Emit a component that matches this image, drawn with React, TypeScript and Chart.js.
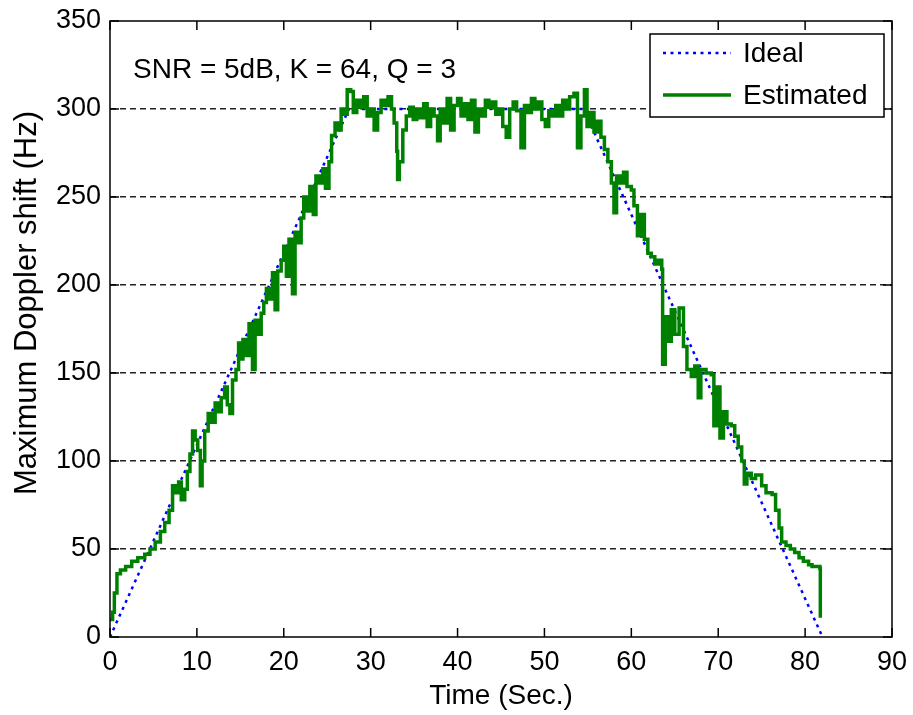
import React, { useEffect, useRef } from "react";
import { Chart, registerables } from "chart.js";

Chart.register(...registerables);

const FONT = "'Liberation Sans', Arial, Helvetica, sans-serif";

const xTickValues = [0, 10, 20, 30, 40, 50, 60, 70, 80, 90];
const yTickValues = [0, 50, 100, 150, 200, 250, 300, 350];

const annotationText = "SNR = 5dB, K = 64, Q = 3";
const xTitle = "Time (Sec.)";
const yTitle = "Maximum Doppler shift (Hz)";
const seriesNames = ["Ideal", "Estimated"];

// Ideal (trapezoidal) Doppler profile
const idealTimes = [0, 27.5, 54.5, 82];
const idealValues = [0, 300, 300, 0];

// Estimated Doppler shift
const estTimes = [
  0, 0.3, 0.5, 0.8, 1.2, 1.8, 2.5, 3.2, 4.0, 4.6,
  5.2, 5.8, 6.3, 6.8, 7.2, 7.5, 7.9, 8.2, 8.6, 8.9,
  9.2, 9.5, 9.8, 10.1, 10.4, 10.6, 10.9, 11.3, 11.7, 12.1,
  12.5, 12.8, 13.2, 13.5, 13.8, 14.1, 14.5, 14.8, 15.1, 15.3,
  15.7, 16.0, 16.4, 16.7, 17.0, 17.4, 17.7, 18.0, 18.4, 18.7,
  19.0, 19.3, 19.7, 20.0, 20.3, 20.6, 21.0, 21.3, 21.7, 22.0,
  22.3, 22.6, 23.0, 23.4, 23.7, 24.1, 24.5, 24.8, 25.2, 25.5,
  25.9, 26.3, 26.6, 27.0, 27.3, 27.7, 28.0, 28.4, 28.8, 29.2,
  29.6, 30.0, 30.4, 30.8, 31.2, 31.6, 32.0, 32.4, 32.7, 33.0,
  33.1, 33.3, 33.7, 34.1, 34.5, 34.9, 35.3, 35.7, 36.1, 36.5,
  36.9, 37.3, 37.7, 38.0, 38.4, 38.8, 39.2, 39.6, 40.0, 40.4,
  40.8, 41.2, 41.6, 42.0, 42.4, 42.8, 43.2, 43.6, 44.0, 44.4,
  44.8, 45.2, 45.6, 46.0, 46.4, 46.8, 47.3, 47.7, 48.1, 48.5,
  48.9, 49.3, 49.7, 50.1, 50.5, 50.9, 51.3, 51.7, 52.1, 52.5,
  52.9, 53.4, 53.8, 54.2, 54.6, 54.9, 55.3, 55.7, 56.1, 56.5,
  56.9, 57.3, 57.7, 58.0, 58.3, 58.7, 59.1, 59.5, 60.0, 60.3,
  60.7, 61.1, 61.5, 61.9, 62.3, 62.7, 63.1, 63.5, 63.6, 63.9,
  64.2, 64.6, 65.0, 65.5, 66.0, 66.4, 66.9, 67.3, 67.7, 68.0,
  68.6, 69.2, 69.5, 69.8, 70.2, 70.6, 71.0, 71.5, 71.9, 72.3,
  72.7, 73.0, 73.3, 73.8, 74.3, 75.0, 75.5, 76.2, 76.6, 77.0,
  77.3, 77.8, 78.3, 78.8, 79.3, 79.8, 80.4, 80.8, 81.7, 81.75,
];
const estValues = [
  10, 14, 25, 36, 38, 40, 43, 45, 47, 50,
  54, 60, 65, 72, 86, 82, 88, 78, 84, 94,
  104, 117, 112, 106, 86, 100, 117, 127, 122, 133,
  128, 136, 142, 132, 127, 146, 152, 167, 158, 169,
  160, 178, 152, 180, 172, 184, 190, 198, 192, 207,
  186, 208, 214, 222, 205, 226, 195, 230, 224, 238,
  250, 242, 256, 240, 262, 258, 266, 255, 270, 285,
  292, 288, 300, 297, 311, 310, 298, 305, 301, 307,
  296, 300, 288, 298, 305, 302, 307, 300, 292, 276,
  260, 270, 288, 296, 301, 294, 300, 295, 303, 290,
  300, 296, 282, 300, 292, 306, 288, 302, 306, 296,
  303, 294, 305, 287, 300, 296, 305, 301, 304, 297,
  300, 290, 284, 300, 304, 299, 278, 302, 298, 306,
  300, 304, 294, 290, 299, 296, 302, 296, 305, 300,
  307, 309, 278, 296, 311, 290, 298, 287, 293, 284,
  277, 270, 258, 241, 262, 258, 264, 256, 254, 245,
  228, 240, 226, 218, 216, 212, 214, 209, 155, 182,
  168, 186, 172, 187, 165, 152, 148, 154, 136, 152,
  150, 149, 120, 142, 113, 128, 121, 120, 114, 108,
  100, 87, 93, 90, 92, 86, 82, 81, 72, 62,
  54, 52, 50, 48, 45, 43, 41, 40, 39, 11,
];

const GREEN = "#008000";
const BLUE = "#0000ff";

const framePlugin = {
  id: "matlabFrame",
  afterDraw(chart: any) {
    const { ctx, chartArea, scales } = chart;
    const { left, right, top, bottom } = chartArea;
    const xs = scales.x;
    const ys = scales.y;
    ctx.save();
    ctx.setLineDash([]);
    ctx.strokeStyle = "#000";
    ctx.lineWidth = 1.5;
    ctx.strokeRect(left, top, right - left, bottom - top);
    const tl = 9;
    ctx.beginPath();
    for (const v of xTickValues) {
      const px = xs.getPixelForValue(v);
      ctx.moveTo(px, bottom);
      ctx.lineTo(px, bottom - tl);
      ctx.moveTo(px, top);
      ctx.lineTo(px, top + tl);
    }
    for (const v of yTickValues) {
      const py = ys.getPixelForValue(v);
      ctx.moveTo(left, py);
      ctx.lineTo(left + tl, py);
      ctx.moveTo(right, py);
      ctx.lineTo(right - tl, py);
    }
    ctx.stroke();

    // y-axis title
    ctx.save();
    ctx.fillStyle = "#000";
    ctx.font = `31px ${FONT}`;
    ctx.textAlign = "center";
    ctx.textBaseline = "middle";
    ctx.translate(left - 83, top + 282);
    ctx.rotate(-Math.PI / 2);
    ctx.fillText(yTitle, 0, 0);
    ctx.restore();

    // annotation text
    ctx.fillStyle = "#000";
    ctx.font = `28px ${FONT}`;
    ctx.textBaseline = "middle";
    ctx.textAlign = "left";
    ctx.fillText(annotationText, left + 23, top + 49);

    // legend box
    const bx0 = right - 242;
    const by0 = top + 13;
    const bw = 234;
    const bh = 83;
    ctx.fillStyle = "#fff";
    ctx.fillRect(bx0, by0, bw, bh);
    ctx.strokeStyle = "#000";
    ctx.lineWidth = 1.5;
    ctx.strokeRect(bx0, by0, bw, bh);
    const rows = [by0 + 19, by0 + 61];
    chart.data.datasets.forEach((ds: any, i: number) => {
      const yy = rows[i];
      ctx.save();
      ctx.strokeStyle = ds.borderColor;
      ctx.lineWidth = ds.borderWidth;
      ctx.setLineDash(ds.borderDash || []);
      ctx.beginPath();
      ctx.moveTo(bx0 + 13, yy);
      ctx.lineTo(bx0 + 81, yy);
      ctx.stroke();
      ctx.restore();
      ctx.fillStyle = "#000";
      ctx.font = `28px ${FONT}`;
      ctx.textBaseline = "middle";
      ctx.fillText(ds.label, bx0 + 93, yy + 1);
    });
    ctx.restore();
  },
};

export default function App() {
  const ref = useRef<HTMLCanvasElement | null>(null);
  useEffect(() => {
    if (!ref.current) return;
    const idealData = idealTimes.map((t, i) => ({ x: t, y: idealValues[i] }));
    const estData = estTimes.map((t, i) => ({ x: t, y: estValues[i] }));
    const chart = new Chart(ref.current, {
      type: "line",
      data: {
        datasets: [
          {
            label: seriesNames[0],
            data: idealData,
            borderColor: BLUE,
            borderWidth: 2.5,
            borderDash: [3, 4.5],
            pointRadius: 0,
            tension: 0,
            fill: false,
            order: 1,
          },
          {
            label: seriesNames[1],
            data: estData,
            borderColor: GREEN,
            borderWidth: 3.5,
            stepped: true,
            pointRadius: 0,
            tension: 0,
            fill: false,
            order: 0,
          },
        ],
      },
      options: {
        animation: false,
        responsive: false,
        devicePixelRatio: 1,
        layout: { padding: { top: 21, right: 21, left: 0, bottom: 0 } },
        plugins: {
          legend: { display: false },
          tooltip: { enabled: false },
        },
        scales: {
          x: {
            type: "linear",
            min: 0,
            max: 90,
            afterFit: (s: any) => {
              s.height = 78;
              s.paddingLeft = 0;
              s.paddingRight = 0;
            },
            afterBuildTicks: (s: any) => {
              s.ticks = xTickValues.map((v) => ({ value: v }));
            },
            grid: { display: false },
            border: { display: false },
            ticks: {
              color: "#000",
              font: { family: FONT, size: 27 },
              padding: 1,
              maxRotation: 0,
            },
            title: {
              display: true,
              text: xTitle,
              color: "#000",
              font: { family: FONT, size: 28 },
              padding: { top: 0, bottom: 2 },
            },
          },
          y: {
            type: "linear",
            min: 0,
            max: 350,
            afterFit: (s: any) => {
              s.width = 110;
              s.paddingTop = 0;
              s.paddingBottom = 0;
            },
            afterBuildTicks: (s: any) => {
              s.ticks = yTickValues.map((v) => ({ value: v }));
            },
            grid: {
              drawTicks: false,
              lineWidth: 1.4,
              color: (c: any) =>
                c.tick && (c.tick.value === 0 || c.tick.value === 350)
                  ? "rgba(0,0,0,0)"
                  : "#222",
            },
            border: { display: false, dash: [6, 4] },
            ticks: {
              color: "#000",
              font: { family: FONT, size: 27 },
              padding: 9,
            },
            title: { display: false },
          },
        },
      },
      plugins: [framePlugin],
    } as any);
    return () => chart.destroy();
  }, []);
  return (
    <div style={{ position: "absolute", left: 0, top: 0, width: 913, height: 715, background: "#fff" }}>
      <canvas ref={ref} width={913} height={715} />
    </div>
  );
}
